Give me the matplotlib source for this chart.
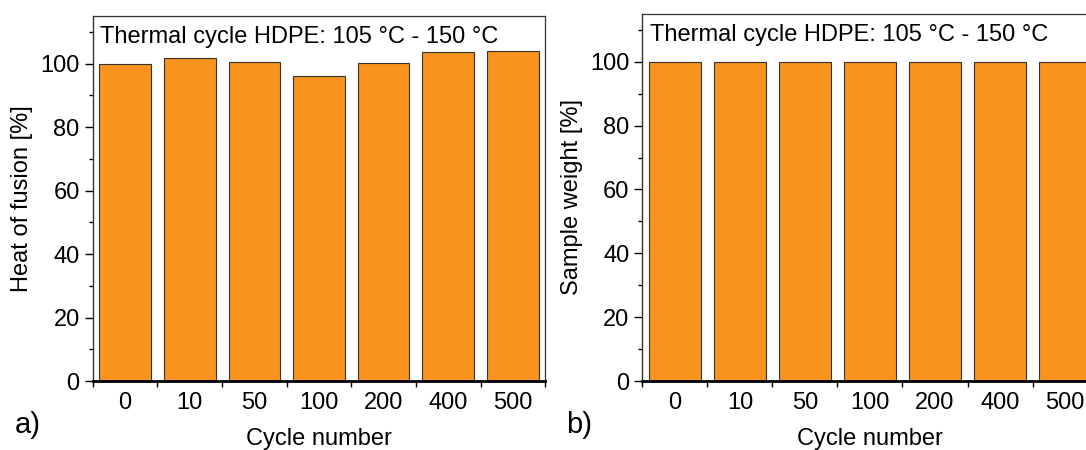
import matplotlib
matplotlib.use("Agg")
import matplotlib.pyplot as plt
from matplotlib.ticker import MultipleLocator, FixedLocator
import numpy as np

plt.rcParams['font.family'] = ['Liberation Sans', 'DejaVu Sans']

cycles = ["0", "10", "50", "100", "200", "400", "500"]
heat_of_fusion = [100.0, 101.7, 100.4, 96.0, 100.2, 103.6, 104.1]
sample_weight = [100.0, 100.0, 100.0, 100.0, 100.0, 100.0, 100.0]
annotation = "Thermal cycle HDPE: 105 °C - 150 °C"

bar_color = "#F8931D"
FS = 17

fig = plt.figure(figsize=(10.86, 4.5), dpi=100)
ax1 = fig.add_axes([0.0855, 0.1533, 0.4165, 0.811])
ax2 = fig.add_axes([0.5916, 0.1533, 0.419, 0.816])

def style(ax, values, ylabel):
    x = np.arange(len(cycles))
    ax.bar(x, values, width=0.8, color=bar_color, edgecolor="#333333", linewidth=0.8, zorder=2)
    ax.set_xlim(-0.5, len(cycles) - 0.5)
    ax.set_ylim(0, 115)
    ax.set_xticks(x)
    ax.set_xticklabels(cycles, fontsize=FS)
    ax.xaxis.set_minor_locator(FixedLocator(np.arange(-0.5, len(cycles) - 0.4, 1.0)))
    ax.tick_params(axis='x', which='major', length=0, pad=8)
    ax.tick_params(axis='x', which='minor', length=4, width=1, direction='out')
    ax.yaxis.set_major_locator(MultipleLocator(20))
    ax.yaxis.set_minor_locator(MultipleLocator(10))
    ax.tick_params(axis='y', which='major', labelsize=FS, length=6, width=1, direction='out', pad=3.5)
    ax.tick_params(axis='y', which='minor', length=3, width=1, direction='out')
    ax.set_xlabel("Cycle number", fontsize=FS, labelpad=10)
    ax.set_ylabel(ylabel, fontsize=FS, labelpad=5)
    for s in ['top', 'right']:
        ax.spines[s].set_linewidth(0.9)
        ax.spines[s].set_color("#333333")
    ax.spines['left'].set_linewidth(1.0)
    ax.spines['left'].set_color("#333333")
    ax.spines['bottom'].set_linewidth(2.0)
    ax.text(0.016, 0.972, annotation, transform=ax.transAxes, fontsize=FS,
            ha='left', va='top')
    return ax

style(ax1, heat_of_fusion, "Heat of fusion [%]")
style(ax2, sample_weight, "Sample weight [%]")

fig.text(15/1086, 1 - 425/450, "a)", fontsize=21, ha='left', va='center')
fig.text(566/1086, 1 - 425/450, "b)", fontsize=21, ha='left', va='center')

fig.savefig("out.png", dpi=100)
